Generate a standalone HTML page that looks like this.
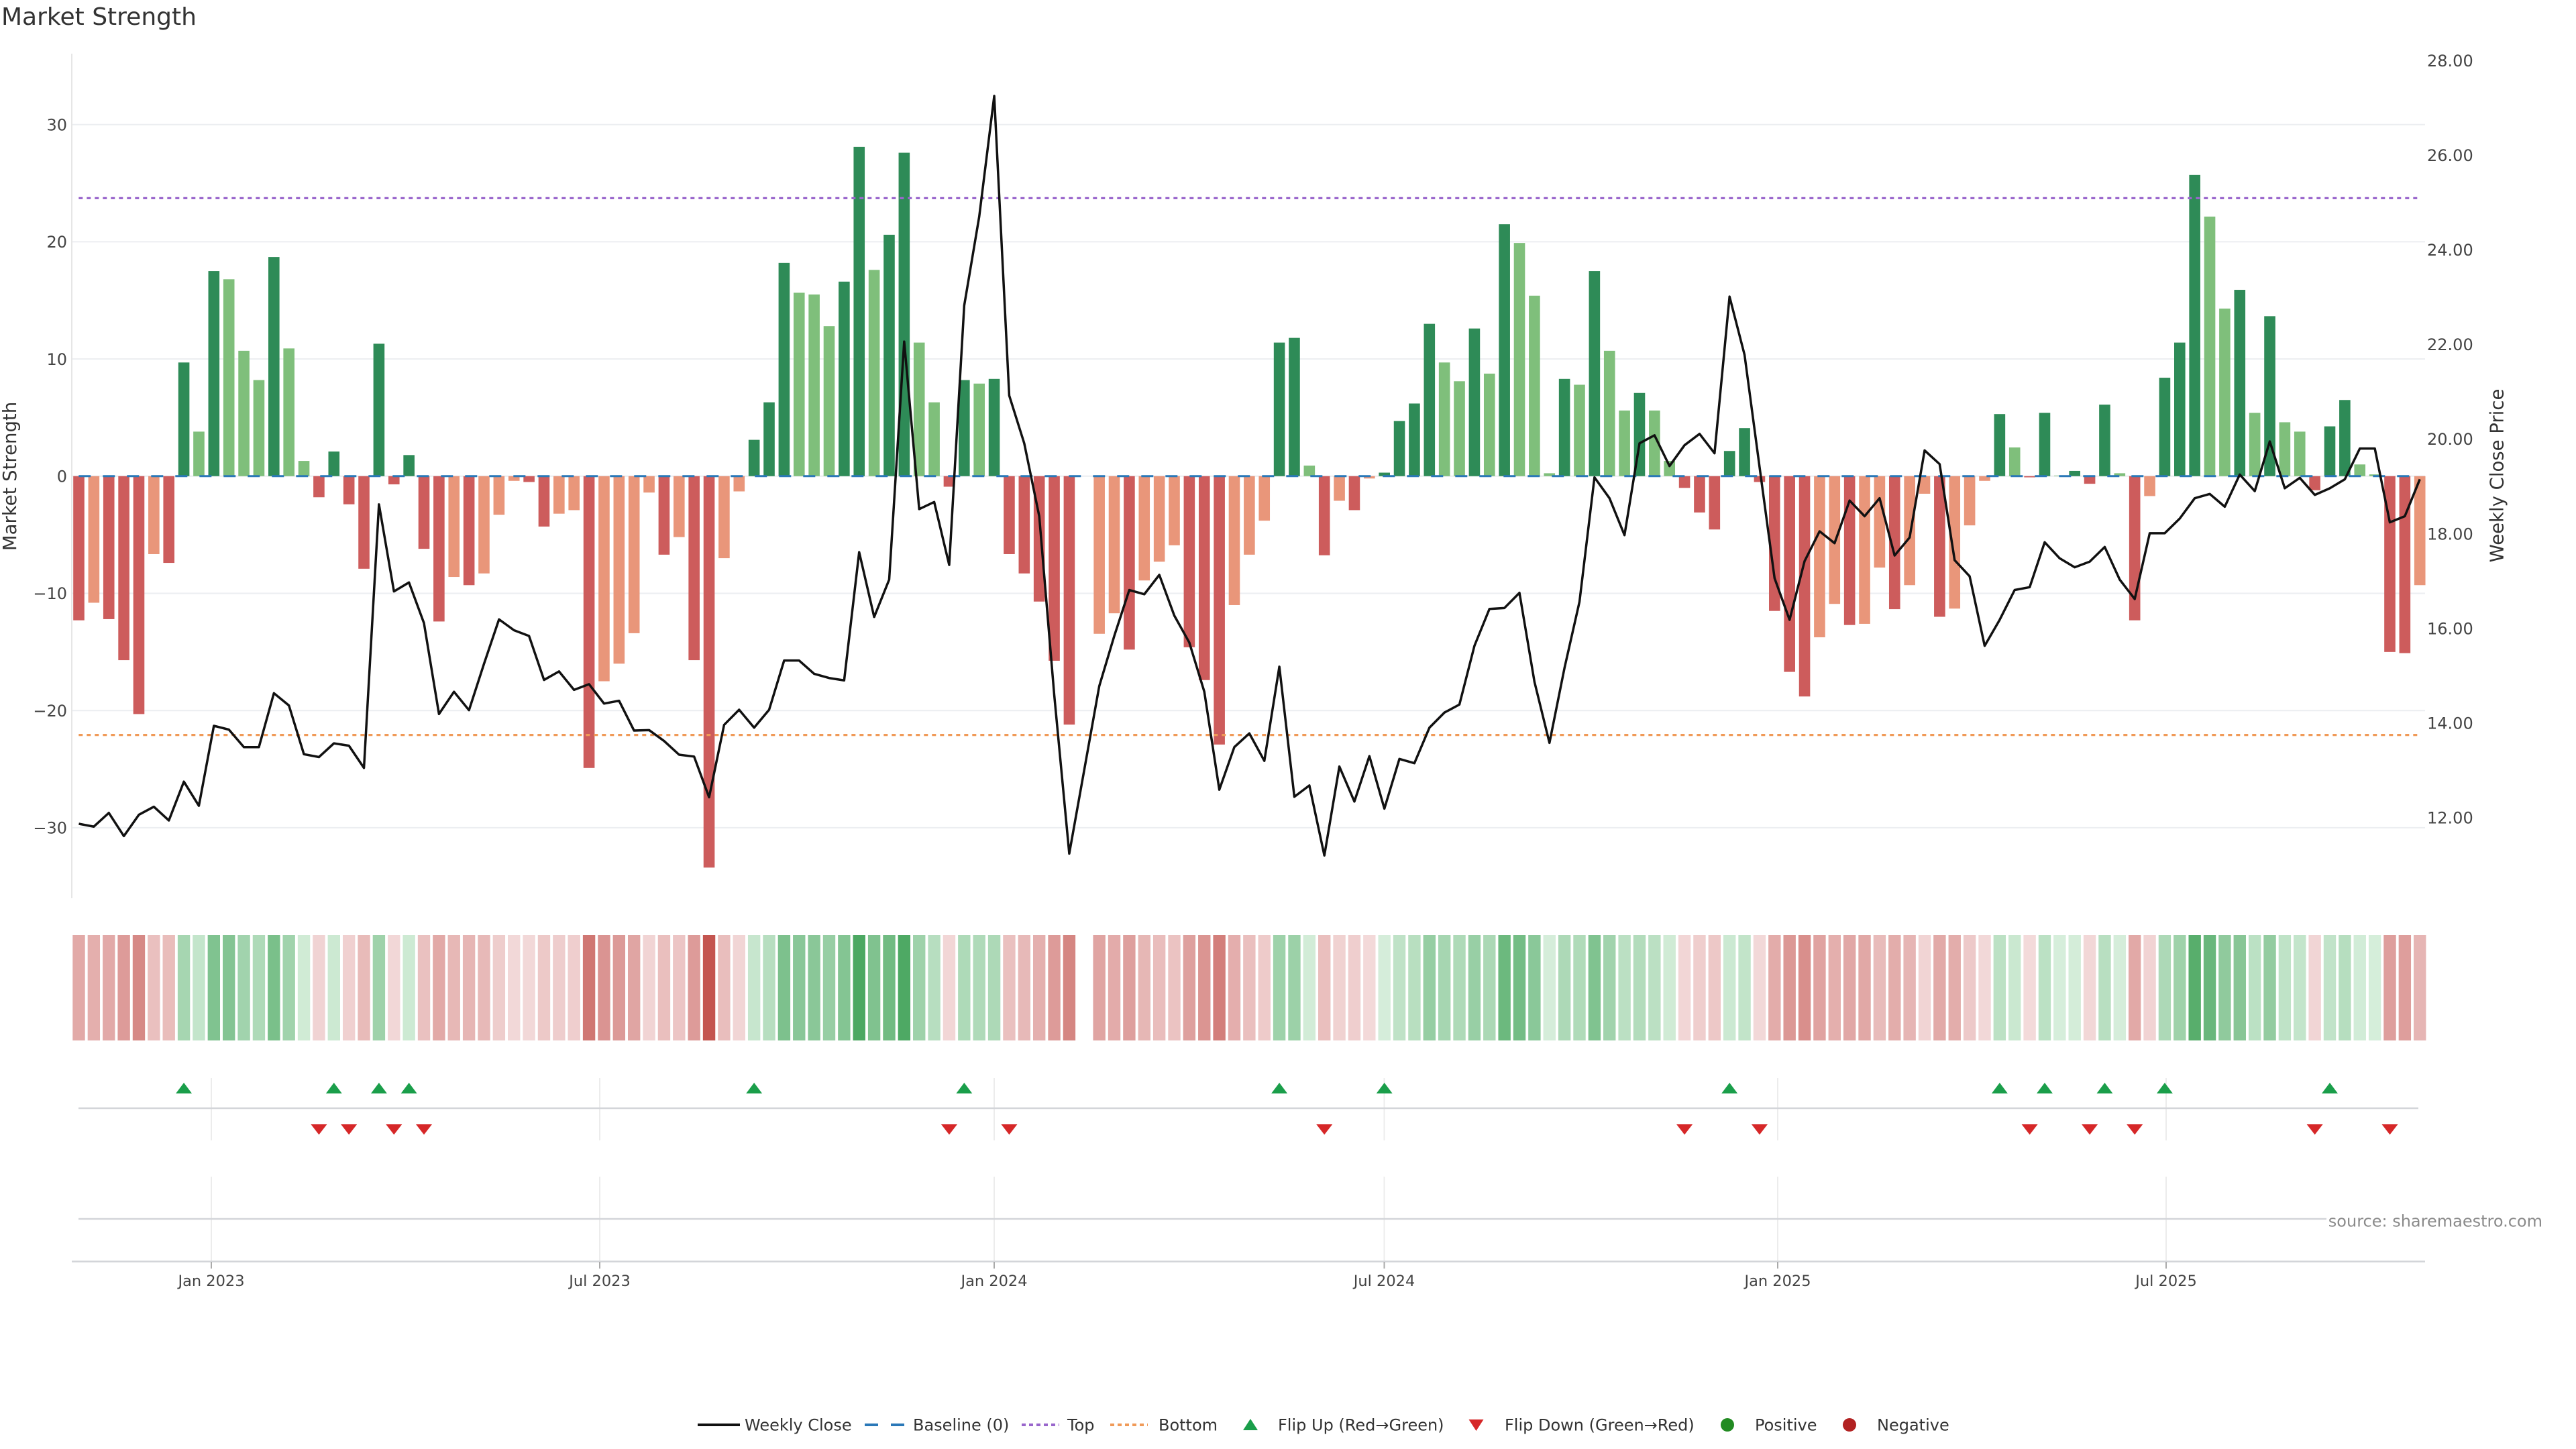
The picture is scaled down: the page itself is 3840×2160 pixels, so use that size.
<!DOCTYPE html>
<html><head><meta charset="utf-8"><title>Market Strength</title>
<style>
html,body{margin:0;padding:0;background:#fff;}
svg{display:block;}
text{font-family:"DejaVu Sans","Liberation Sans",sans-serif;}
</style></head>
<body>
<svg id="c" xmlns="http://www.w3.org/2000/svg" width="3840" height="2160" viewBox="0 0 3840 2160">
<rect x="0" y="0" width="3840" height="2160" fill="#fff"/>
<!-- title -->
<text x="2" y="37" font-size="36" fill="#333">Market Strength</text>
<!-- gridlines main -->
<g stroke="#eceef1" stroke-width="2">
<line x1="106" y1="185.7" x2="3615" y2="185.7"/>
<line x1="106" y1="360.4" x2="3615" y2="360.4"/>
<line x1="106" y1="535.1" x2="3615" y2="535.1"/>
<line x1="106" y1="709.8" x2="3615" y2="709.8"/>
<line x1="106" y1="884.5" x2="3615" y2="884.5"/>
<line x1="106" y1="1059.2" x2="3615" y2="1059.2"/>
<line x1="106" y1="1233.9" x2="3615" y2="1233.9"/>
</g>
<line x1="107" y1="80" x2="107" y2="1339" stroke="#e6e6e6" stroke-width="2"/>
<!-- left ticks -->
<g font-size="24" fill="#444" text-anchor="end">
<text x="100" y="194.4">30</text>
<text x="100" y="369.1">20</text>
<text x="100" y="543.8">10</text>
<text x="100" y="718.5">0</text>
<text x="100" y="893.2">−10</text>
<text x="100" y="1067.9">−20</text>
<text x="100" y="1242.6">−30</text>
</g>
<!-- right ticks -->
<g font-size="24" fill="#444" text-anchor="start">
<text x="3618" y="98.9">28.00</text>
<text x="3618" y="240">26.00</text>
<text x="3618" y="381">24.00</text>
<text x="3618" y="522.1">22.00</text>
<text x="3618" y="663.2">20.00</text>
<text x="3618" y="804.3">18.00</text>
<text x="3618" y="945.4">16.00</text>
<text x="3618" y="1086.4">14.00</text>
<text x="3618" y="1227.5">12.00</text>
</g>
<!-- axis titles -->
<text transform="translate(24,710) rotate(-90)" text-anchor="middle" font-size="27.5" fill="#333">Market Strength</text>
<text transform="translate(3731.5,709) rotate(-90)" text-anchor="middle" font-size="27.5" fill="#333">Weekly Close Price</text>

<g id="bars"></g>
<!-- baseline / top / bottom -->
<line x1="117.3" y1="709.8" x2="3604" y2="709.8" stroke="#2a78b8" stroke-width="3" stroke-dasharray="18 18"/>
<line x1="117.3" y1="295.4" x2="3604" y2="295.4" stroke="#9966cc" stroke-width="3.2" stroke-dasharray="6 6"/>
<line x1="117.3" y1="1095.6" x2="3604" y2="1095.6" stroke="#f09a58" stroke-width="3.2" stroke-dasharray="6 6"/>
<g id="line"></g>

<!-- heatmap -->
<g id="heat"></g>

<!-- lower panels -->
<g stroke="#ececec" stroke-width="2">
<line x1="315" y1="1607" x2="315" y2="1700"/><line x1="894" y1="1607" x2="894" y2="1700"/>
<line x1="1482" y1="1607" x2="1482" y2="1700"/><line x1="2063.5" y1="1607" x2="2063.5" y2="1700"/>
<line x1="2650" y1="1607" x2="2650" y2="1700"/><line x1="3229" y1="1607" x2="3229" y2="1700"/>
<line x1="315" y1="1754" x2="315" y2="1880"/><line x1="894" y1="1754" x2="894" y2="1880"/>
<line x1="1482" y1="1754" x2="1482" y2="1880"/><line x1="2063.5" y1="1754" x2="2063.5" y2="1880"/>
<line x1="2650" y1="1754" x2="2650" y2="1880"/><line x1="3229" y1="1754" x2="3229" y2="1880"/>
</g>
<g stroke="#d3d5d9" stroke-width="2.5">
<line x1="117" y1="1652" x2="3605" y2="1652"/>
<line x1="117" y1="1817" x2="3605" y2="1817"/>
<line x1="107" y1="1880.5" x2="3615" y2="1880.5"/>
</g>
<g stroke="#aaa" stroke-width="2">
<line x1="315" y1="1881" x2="315" y2="1891"/><line x1="894" y1="1881" x2="894" y2="1891"/>
<line x1="1482" y1="1881" x2="1482" y2="1891"/><line x1="2063.5" y1="1881" x2="2063.5" y2="1891"/>
<line x1="2650" y1="1881" x2="2650" y2="1891"/><line x1="3229" y1="1881" x2="3229" y2="1891"/>
</g>
<g id="marks"></g>
<g font-size="22.5" fill="#444" text-anchor="middle">
<text x="315" y="1917">Jan 2023</text>
<text x="894" y="1917">Jul 2023</text>
<text x="1482" y="1917">Jan 2024</text>
<text x="2063.5" y="1917">Jul 2024</text>
<text x="2650" y="1917">Jan 2025</text>
<text x="3229" y="1917">Jul 2025</text>
</g>
<rect x="3468" y="1800" width="330" height="38" fill="#fff"/>
<text x="3790" y="1828.5" font-size="24" fill="#8a8a8a" text-anchor="end">source: sharemaestro.com</text>

<!-- legend -->
<g font-size="24" fill="#333">
<line x1="1040" y1="2124" x2="1103" y2="2124" stroke="#111" stroke-width="4"/>
<text x="1110" y="2132.5">Weekly Close</text>
<line x1="1289" y1="2124" x2="1309" y2="2124" stroke="#2a78b8" stroke-width="4"/>
<line x1="1328" y1="2124" x2="1348" y2="2124" stroke="#2a78b8" stroke-width="4"/>
<text x="1361" y="2132.5">Baseline (0)</text>
<line x1="1523" y1="2124" x2="1579" y2="2124" stroke="#9966cc" stroke-width="4" stroke-dasharray="6 5"/>
<text x="1591" y="2132.5">Top</text>
<line x1="1655" y1="2124" x2="1711" y2="2124" stroke="#f09a58" stroke-width="4" stroke-dasharray="6 5"/>
<text x="1727" y="2132.5">Bottom</text>
<path d="M1853,2132 L1875,2132 L1864,2115 Z" fill="#1a9e4a"/>
<text x="1905" y="2132.5">Flip Up (Red→Green)</text>
<path d="M2189.5,2116 L2211.5,2116 L2200.5,2133 Z" fill="#d62728"/>
<text x="2243" y="2132.5">Flip Down (Green→Red)</text>
<circle cx="2575" cy="2124" r="10" fill="#228b22"/>
<text x="2616" y="2132.5">Positive</text>
<circle cx="2757" cy="2124" r="10" fill="#b22222"/>
<text x="2798" y="2132.5">Negative</text>
</g>
</svg>
<script>
(function(){
var V=[-12.3,-10.8,-12.2,-15.7,-20.3,-6.65,-7.4,9.7,3.8,17.5,
16.8,10.7,8.2,18.7,10.9,1.3,-1.8,2.1,-2.4,-7.9,
11.3,-0.7,1.8,-6.2,-12.4,-8.6,-9.3,-8.3,-3.3,-0.4,
-0.5,-4.3,-3.2,-2.9,-24.9,-17.5,-16.0,-13.4,-1.4,-6.7,
-5.2,-15.7,-33.4,-7.0,-1.3,3.1,6.3,18.2,15.65,15.5,
12.8,16.6,28.1,17.6,20.6,27.6,11.4,6.3,-0.9,8.2,
7.9,8.3,-6.65,-8.3,-10.7,-15.75,-21.2,null,-13.45,-11.7,
-14.8,-8.9,-7.3,-5.9,-14.6,-17.4,-22.9,-11.0,-6.7,-3.8,
11.4,11.8,0.9,-6.75,-2.1,-2.9,-0.2,0.3,4.7,6.2,
13.0,9.7,8.1,12.6,8.75,21.5,19.9,15.4,0.25,8.3,
7.8,17.5,10.7,5.6,7.1,5.6,1.3,-1.0,-3.1,-4.55,
2.15,4.1,-0.5,-11.5,-16.7,-18.8,-13.75,-10.9,-12.7,-12.6,
-7.8,-11.35,-9.3,-1.5,-12.0,-11.3,-4.2,-0.4,5.3,2.45,
-0.1,5.4,0.05,0.45,-0.65,6.1,0.25,-12.3,-1.7,8.4,
11.4,25.7,22.15,14.3,15.9,5.4,13.65,4.6,3.8,-1.2,
4.25,6.5,1.0,0.15,-15.0,-15.1,-9.3];
var C="rsrrrsrdld"+"llldllrdrr"+"drdrrsrsss"+"rrssrssssr"+"srrssdddll"+"lddlddllrd"+"ldrrrrr_ss"+"rsssrrrsss"+"ddlrsrsddd"+"dlldldllld"+"ldlldllrrr"+"ddrrrrssrs"+"srssrsssdl"+"rdldrdlrsd"+"ddlldldllr"+"ddllrrs";
var P=[11.87,11.81,12.10,11.61,12.06,12.23,11.94,12.76,12.25,13.94,
13.86,13.49,13.49,14.63,14.37,13.34,13.28,13.57,13.52,13.05,
18.62,16.78,16.97,16.11,14.19,14.66,14.27,15.25,16.19,15.96,
15.84,14.91,15.09,14.70,14.82,14.41,14.47,13.84,13.85,13.62,
13.33,13.29,12.43,13.96,14.28,13.90,14.28,15.32,15.32,15.04,
14.95,14.90,17.61,16.24,17.03,22.06,18.52,18.67,17.34,22.82,
24.70,27.25,20.92,19.91,18.37,14.59,11.24,null,14.78,15.84,
16.81,16.72,17.13,16.27,15.70,14.66,12.59,13.49,13.78,13.20,
15.19,12.44,12.68,11.20,13.08,12.34,13.30,12.19,13.24,13.15,
13.90,14.22,14.39,15.63,16.41,16.43,16.75,14.87,13.58,15.16,
16.56,19.19,18.75,17.97,19.91,20.08,19.43,19.87,20.11,19.70,
23.01,21.78,19.41,17.06,16.18,17.42,18.05,17.80,18.70,18.37,
18.75,17.54,17.92,19.76,19.47,17.44,17.10,15.63,16.18,16.81,
16.87,17.82,17.48,17.29,17.41,17.72,17.03,16.62,18.01,18.01,
18.32,18.75,18.84,18.57,19.25,18.90,19.95,18.96,19.18,18.82,
18.96,19.15,19.80,19.80,18.24,18.37,19.15];
var UP=[7,17,20,22,45,59,80,87,110,128,131,135,139,150];
var DN=[16,18,21,23,58,62,83,107,112,130,134,137,149,154];
var COL={d:'#2e8b57',l:'#7fbf7b',r:'#cd5c5c',s:'#e9967a'};
function X(i){return 117.5+i*22.37;}
function Yv(v){return 709.8-17.47*v;}
function Yp(p){return 654.5-70.54*(p-20);}
function f(n){return n.toFixed(2);}
var b='',h='';
var y0=Yv(0);
for(var i=0;i<V.length;i++){
  var v=V[i]; if(v===null) continue;
  var x=X(i);
  var y,hh;
  if(v>=0){y=Yv(v);hh=y0-y;}else{y=y0;hh=Yv(v)-y0;}
  if(hh<0.6)hh=0.6;
  b+='<rect x="'+f(x-8.3)+'" y="'+f(y)+'" width="16.6" height="'+f(hh)+'" fill="'+COL[C.charAt(i)]+'"/>';
  var t=Math.min(Math.abs(v)/33.4,1),r,g,bl;
  if(v<0){r=243-(243-196)*t;g=218-(218-85)*t;bl=218-(218-80)*t;}
  else{r=214-(214-50)*t;g=238-(238-155)*t;bl=219-(219-75)*t;}
  h+='<rect x="'+f(x-9.2)+'" y="1394" width="18.4" height="157" fill="rgb('+Math.round(r)+','+Math.round(g)+','+Math.round(bl)+')"/>';
}
document.getElementById('bars').innerHTML=b;
document.getElementById('heat').innerHTML=h;
var d='';
for(var j=0;j<P.length;j++){
  if(P[j]===null) continue;
  d+=(d===''?'M':'L')+f(X(j))+','+f(Yp(P[j]));
}
document.getElementById('line').innerHTML='<path d="'+d+'" fill="none" stroke="#111" stroke-width="3.5" stroke-linejoin="round"/>';
var m='';
for(var k=0;k<UP.length;k++){var ux=X(UP[k]);m+='<path d="M'+f(ux-12)+',1630 L'+f(ux+12)+',1630 L'+f(ux)+',1614 Z" fill="#1a9e4a"/>';}
for(var k2=0;k2<DN.length;k2++){var dx=X(DN[k2]);m+='<path d="M'+f(dx-12)+',1676 L'+f(dx+12)+',1676 L'+f(dx)+',1691.5 Z" fill="#d62728"/>';}
document.getElementById('marks').innerHTML=m;
})();
</script>
</body></html>
